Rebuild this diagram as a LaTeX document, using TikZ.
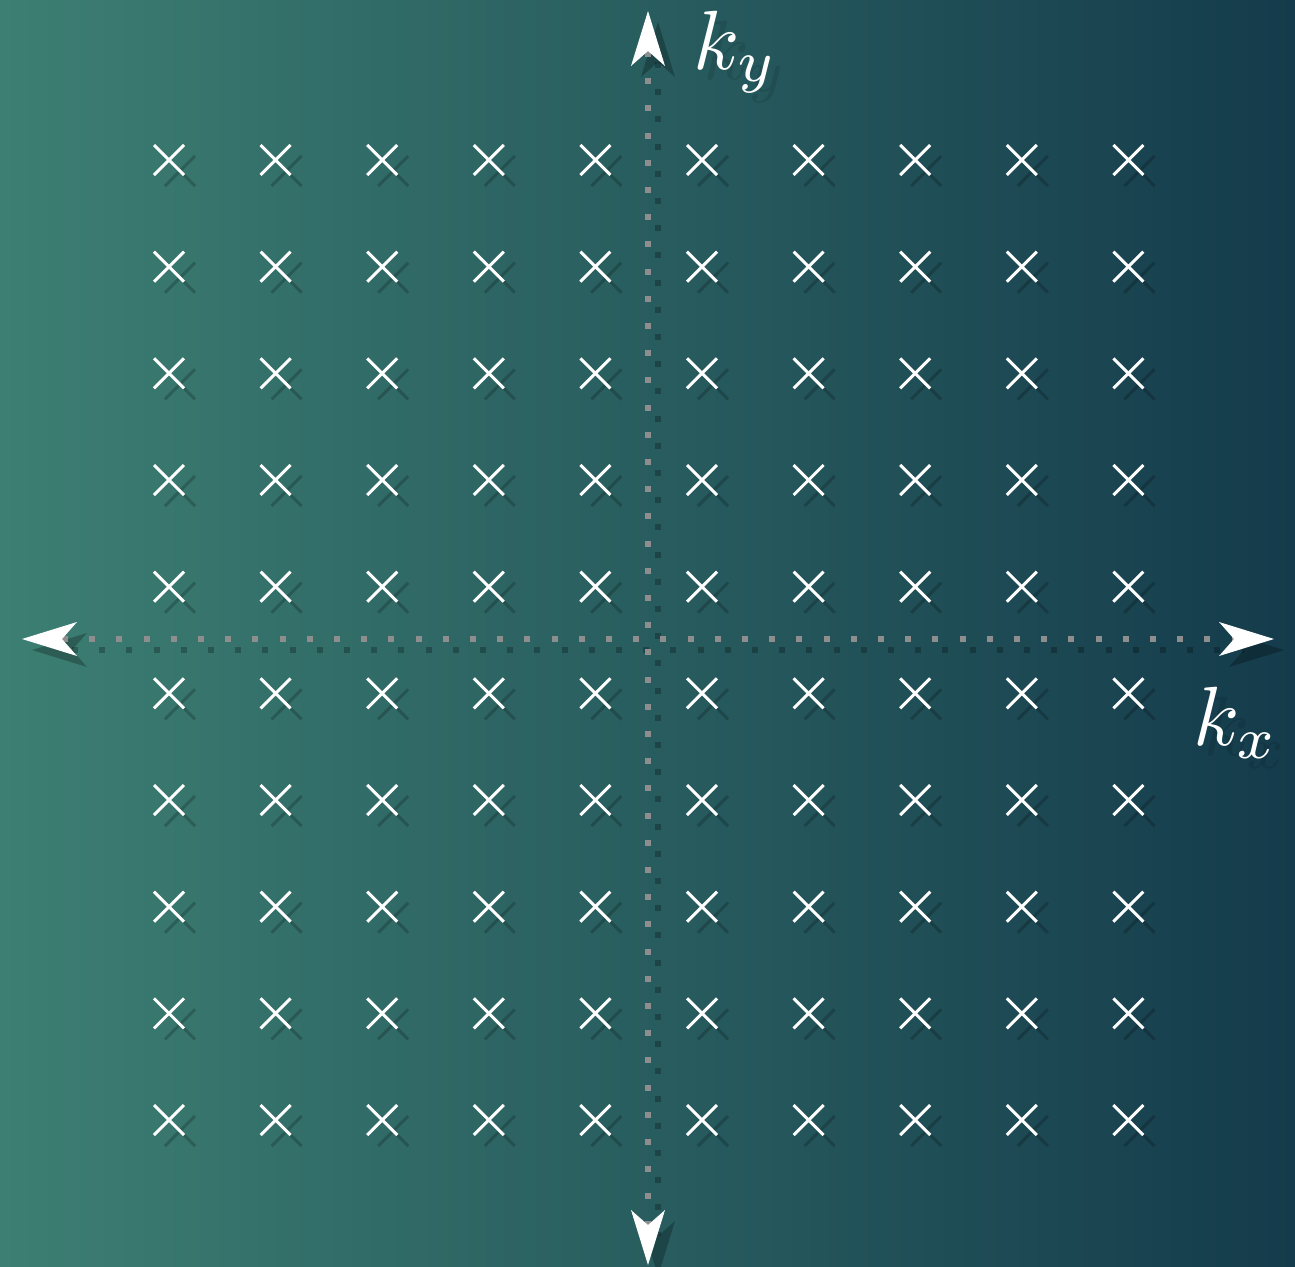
\documentclass[tikz,border=0pt]{standalone}
\usetikzlibrary{arrows.meta}
\definecolor{bgL}{HTML}{3D7F73}
\definecolor{bgR}{HTML}{143B4B}
\definecolor{dotgray}{HTML}{8E8E8E}
\begin{document}
\begin{tikzpicture}[x=1pt,y=-1pt,
  crossline/.style={white,line width=3pt},
  crossshadow/.style={black,opacity=0.2,line width=3pt},
  tipwhite/.tip={Stealth[length=55pt,width=34pt,inset=15pt,line width=0pt,color=white]},
  tipshadow/.tip={Stealth[length=55pt,width=34pt,inset=15pt,line width=0pt,color=black]},
  axisline/.style={dotgray,line width=6pt,dash pattern=on 6pt off 21.2pt,tipwhite-tipwhite},
  axisshadow/.style={black,opacity=0.25,line width=6pt,dash pattern=on 6pt off 21.2pt,tipshadow-tipshadow},
  lbl/.style={white,inner sep=0pt,scale=8.4},
  lblshadow/.style={black,opacity=0.1,inner sep=0pt,scale=8.4}
]
\useasboundingbox (0,0) rectangle (1295,1266);
\shade[left color=bgL,right color=bgR] (0,0) rectangle (1295,1266);

% axis end points
\coordinate (L) at (22,639);
\coordinate (R) at (1274,639);
\coordinate (T) at (648,11);
\coordinate (B) at (648,1265);
\coordinate (Ls) at (32,650);
\coordinate (Rs) at (1284,650);
\coordinate (Ts) at (658,22);
\coordinate (Bs) at (658,1276);

% shadows of axes
\draw[axisshadow] (Ls) -- (Rs);
\draw[axisshadow] (Ts) -- (Bs);

% crosses
\foreach \i in {0,...,9}{
  \foreach \j in {0,...,9}{
    \pgfmathsetmacro{\cx}{169+106.6*\i}
    \pgfmathsetmacro{\cy}{160+106.67*\j}
    \draw[crossshadow] (\cx+11-15,\cy+11-15) -- (\cx+11+15,\cy+11+15)
                       (\cx+11-15,\cy+11+15) -- (\cx+11+15,\cy+11-15);
    \draw[crossline] (\cx-15,\cy-15) -- (\cx+15,\cy+15)
                     (\cx-15,\cy+15) -- (\cx+15,\cy-15);
  }
}

% axes
\draw[axisline] (L) -- (R);
\draw[axisline] (T) -- (B);

% labels
\node[lblshadow] (kys) at (746,62) {$k_y$};
\node[lbl] (ky) at (736,52) {$k_y$};
\node[lblshadow] (kxs) at (1246,733) {$k_x$};
\node[lbl] (kx) at (1236,723) {$k_x$};
\end{tikzpicture}
\end{document}
